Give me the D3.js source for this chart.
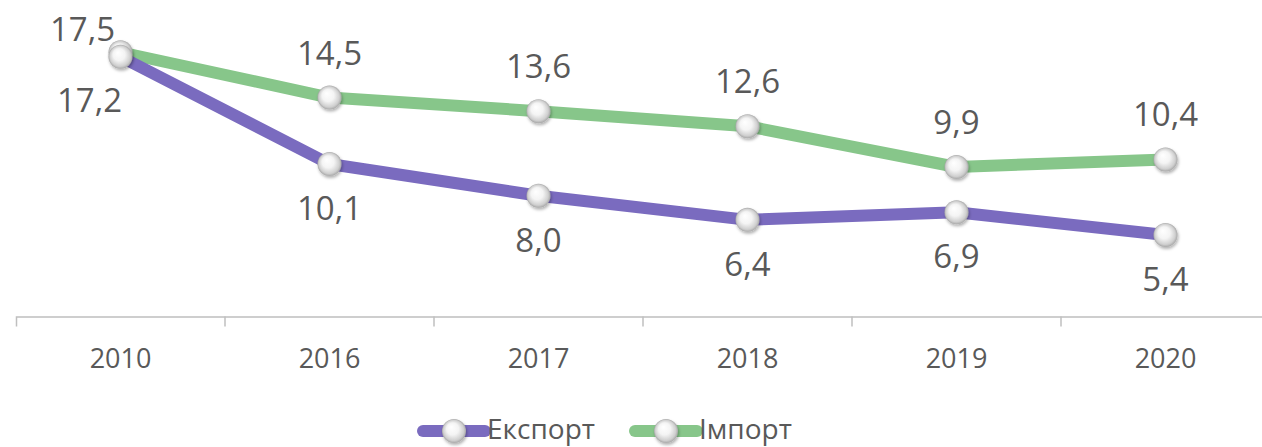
<!DOCTYPE html>
<meta charset="utf-8">
<script src="https://d3js.org/d3.v7.min.js"></script>
<style>
  body { margin: 0; background: #fff; }
  text { font-family: "Open Sans", sans-serif; fill: #595959; }
</style>
<div id="chart"></div>
<script>
// data
var years = ["2010", "2016", "2017", "2018", "2019", "2020"];
var exportVals = [17.2, 10.1, 8.0, 6.4, 6.9, 5.4];
var importVals = [17.5, 14.5, 13.6, 12.6, 9.9, 10.4];
var seriesNames = ["Експорт", "Імпорт"];

var W = 1262, H = 447;
var colors = { "Експорт": "#7A6BBF", "Імпорт": "#87C68A" };

var svg = d3.select("#chart").append("svg")
  .attr("width", W).attr("height", H);

// marker look: shiny white ball
var defs = svg.append("defs");
var grad = defs.append("radialGradient").attr("id", "ball")
  .attr("cx", "50%").attr("cy", "50%").attr("r", "50%")
  .attr("fx", "38%").attr("fy", "32%");
grad.append("stop").attr("offset", "0%").attr("stop-color", "#ffffff");
grad.append("stop").attr("offset", "50%").attr("stop-color", "#f4f4f4");
grad.append("stop").attr("offset", "85%").attr("stop-color", "#cfcfcf");
grad.append("stop").attr("offset", "100%").attr("stop-color", "#a8a8a8");
var shadow = defs.append("filter").attr("id", "shadow")
  .attr("x", "-50%").attr("y", "-50%").attr("width", "200%").attr("height", "200%");
shadow.append("feDropShadow").attr("dx", 1).attr("dy", 2)
  .attr("stdDeviation", 1.5).attr("flood-color", "#000").attr("flood-opacity", 0.3);

// scales
var x = d3.scaleBand().domain(years).range([16, 16 + 6 * 209]).padding(0);
var y = d3.scaleLinear().domain([0, 20]).range([316.5, 316.5 - 20 * 15.1]);
function cx(d) { return x(d) + x.bandwidth() / 2; }

// x axis
var axis = svg.append("g").attr("transform", "translate(0," + y(0) + ")")
  .call(d3.axisBottom(x).tickSizeInner(0).tickSizeOuter(10).tickPadding(32));
axis.select(".domain").attr("stroke", "#BFBFBF").attr("stroke-width", 1.5);
axis.selectAll("text").style("font-size", "27px").attr("fill", "#595959")
  .style("font-family", "'Open Sans', sans-serif");
axis.selectAll(".tick line").remove();
axis.selectAll(".boundary").data(years.slice(1)).enter().append("line")
  .attr("x1", function(d) { return x(d); }).attr("x2", function(d) { return x(d); })
  .attr("y1", 0).attr("y2", 10)
  .attr("stroke", "#BFBFBF").attr("stroke-width", 1.5);

var series = [
  { name: "Імпорт", values: importVals, dy: -33, dx0: -38, dy0: -11 },
  { name: "Експорт", values: exportVals, dy: 56, dx0: -31, dy0: 55 }
];

var line = d3.line()
  .x(function(d) { return cx(d.year); })
  .y(function(d) { return y(d.v); });

function pts(s) {
  return years.map(function(yr, i) { return { year: yr, v: s.values[i] }; });
}

// lines
series.forEach(function(s) {
  svg.append("path").datum(pts(s))
    .attr("d", line)
    .attr("fill", "none")
    .attr("stroke", colors[s.name])
    .attr("stroke-width", 12)
    .attr("stroke-linejoin", "round");
});

// markers
series.forEach(function(s) {
  svg.selectAll(null).data(pts(s)).enter().append("circle")
    .attr("cx", function(d) { return cx(d.year); })
    .attr("cy", function(d) { return y(d.v); })
    .attr("r", 12)
    .attr("fill", "url(#ball)")
    .attr("filter", "url(#shadow)");
});

// data labels
var fmt = function(v) { return d3.format(".1f")(v).replace(".", ","); };
series.forEach(function(s) {
  svg.selectAll(null).data(pts(s)).enter().append("text")
    .attr("x", function(d, i) { return cx(d.year) + (i === 0 ? s.dx0 : 0); })
    .attr("y", function(d, i) { return y(d.v) + (i === 0 ? s.dy0 : s.dy); })
    .attr("text-anchor", "middle")
    .style("font-size", "33px")
    .text(function(d) { return fmt(d.v); });
});

// legend
var legend = [
  { name: "Експорт", x: 423 },
  { name: "Імпорт", x: 635 }
];
var lg = svg.selectAll(".legend").data(legend).enter().append("g")
  .attr("transform", function(d) { return "translate(" + d.x + ",431)"; });
lg.append("line").attr("x1", 0).attr("x2", 62).attr("y1", 0).attr("y2", 0)
  .attr("stroke", function(d) { return colors[d.name]; })
  .attr("stroke-width", 12).attr("stroke-linecap", "round");
lg.append("circle").attr("cx", 31).attr("cy", 0).attr("r", 12)
  .attr("fill", "url(#ball)").attr("filter", "url(#shadow)");
lg.append("text").attr("x", 64).attr("y", 8)
  .style("font-size", "28px")
  .text(function(d) { return d.name; });
</script>
